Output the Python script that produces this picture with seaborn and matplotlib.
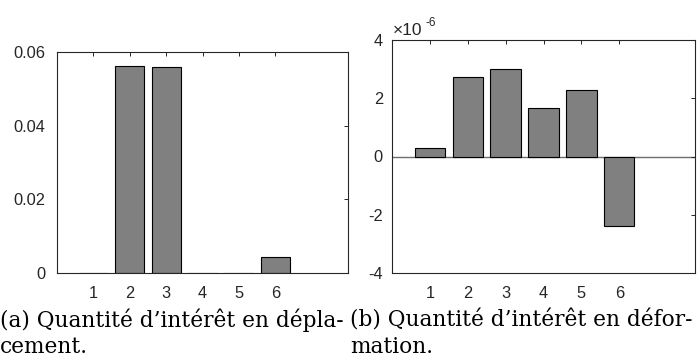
import numpy as np
import pandas as pd
import matplotlib
matplotlib.use("Agg")
import matplotlib.pyplot as plt
import seaborn as sns

# quantity of interest per mode (1..6)
modes = [1, 2, 3, 4, 5, 6]
qoi_depl = [2e-5, 0.0563, 0.0560, 2e-5, 1e-5, 0.00445]
qoi_defo = [0.28e-6, 2.74e-6, 3.00e-6, 1.67e-6, 2.27e-6, -2.40e-6]

depl_ticks = [0, 0.02, 0.04, 0.06]
depl_labels = ["0", "0.02", "0.04", "0.06"]
defo_ticks = [-4e-6, -2e-6, 0, 2e-6, 4e-6]
defo_labels = ["-4", "-2", "0", "2", "4"]

caption_a = ["(a) Quantité d\u2019intérêt en dépla-", "cement."]
caption_b = ["(b) Quantité d\u2019intérêt en défor-", "mation."]

sns.set_style("white")
plt.rcParams["font.family"] = ["Liberation Sans", "DejaVu Sans"]
plt.rcParams["axes.unicode_minus"] = False

fig = plt.figure(figsize=(6.97, 3.58), dpi=100)
ax1 = fig.add_axes([57 / 697, 1 - 273 / 358, 291 / 697, 221 / 358])
ax2 = fig.add_axes([392 / 697, 1 - 273 / 358, 303 / 697, 233 / 358])

df_a = pd.DataFrame({"mode": modes, "val": qoi_depl})
df_b = pd.DataFrame({"mode": modes, "val": qoi_defo})

bar_kw = dict(color="#808080", edgecolor="black", linewidth=0.8,
              saturation=1, native_scale=True, width=0.8, errorbar=None)
sns.barplot(data=df_a, x="mode", y="val", ax=ax1, **bar_kw)
sns.barplot(data=df_b, x="mode", y="val", ax=ax2, **bar_kw)

ax2.axhline(0, color="#6e6e6e", lw=1.0, zorder=0.5)

for ax, ticks, labels, ypad in [(ax1, depl_ticks, depl_labels, 8.5),
                                (ax2, defo_ticks, defo_labels, 6.5)]:
    ax.set_xlim(0, 8)
    ax.set_ylim(ticks[0], ticks[-1])
    ax.set_xticks(modes)
    ax.set_xticklabels([str(m) for m in modes])
    ax.set_yticks(ticks)
    ax.set_yticklabels(labels)
    ax.set_xlabel("")
    ax.set_ylabel("")
    ax.tick_params(direction="in", length=3, width=0.7, top=True, right=True,
                   labelsize=11.8, colors="#262626")
    ax.tick_params(axis="x", pad=9)
    ax.tick_params(axis="y", pad=ypad)
    for s in ax.spines.values():
        s.set_visible(True)
        s.set_color("#262626")
        s.set_linewidth(0.8)

# MATLAB-like exponent label
fig.text(393 / 697, 1 - 35 / 358, "\u00d710", fontsize=12.5, color="#262626",
         ha="left", va="baseline")
fig.text(425 / 697, 1 - 26 / 358, "-6", fontsize=8.5, color="#262626",
         ha="left", va="baseline")

cap_font = dict(family=["DejaVu Serif"], fontsize=15.6, color="black")
for x0, lines in [(0.0, caption_a), (350 / 697, caption_b)]:
    fig.text(x0, 1 - 327 / 358, lines[0], ha="left", va="baseline", **cap_font)
    fig.text(x0, 1 - 353 / 358, lines[1], ha="left", va="baseline", **cap_font)

fig.savefig("out.png", dpi=100)
